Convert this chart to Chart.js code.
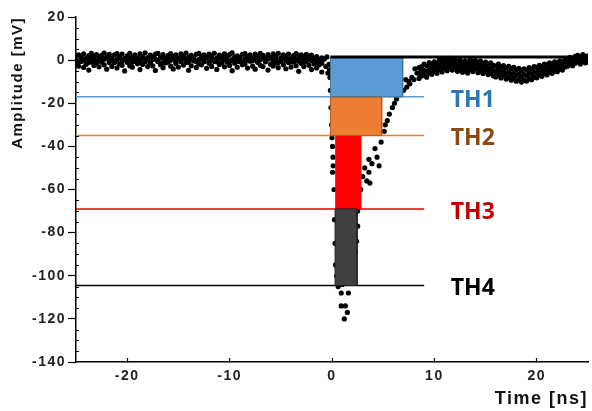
<!DOCTYPE html>
<html>
<head>
<meta charset="utf-8">
<script src="https://cdn.jsdelivr.net/npm/chart.js@4.4.1/dist/chart.umd.min.js"></script>
<style>
  html, body { margin: 0; padding: 0; background: #fff; }
  #wrap { width: 592px; height: 411px; }
</style>
</head>
<body>
<div id="wrap"><canvas id="c" width="592" height="411"></canvas></div>
<script>
// Baseline noise before the pulse (time in ns, amplitude in mV)
const timeNoise = [
  -25,-24.75,-24.5,-24.25,-24,-23.75,-23.5,-23.25,-23,-22.75,-22.5,-22.25,-22,-21.75,-21.5,-21.25,-21,-20.75,-20.5,-20.25,
  -20,-19.75,-19.5,-19.25,-19,-18.75,-18.5,-18.25,-18,-17.75,-17.5,-17.25,-17,-16.75,-16.5,-16.25,-16,-15.75,-15.5,-15.25,
  -15,-14.75,-14.5,-14.25,-14,-13.75,-13.5,-13.25,-13,-12.75,-12.5,-12.25,-12,-11.75,-11.5,-11.25,-11,-10.75,-10.5,-10.25,
  -10,-9.75,-9.5,-9.25,-9,-8.75,-8.5,-8.25,-8,-7.75,-7.5,-7.25,-7,-6.75,-6.5,-6.25,-6,-5.75,-5.5,-5.25,
  -5,-4.75,-4.5,-4.25,-4,-3.75,-3.5,-3.25,-3,-2.75,-2.5,-2.25,-2,-1.75,-1.5,-1.25,-1
];
const ampNoiseHigh = [
  1.8,2.5,1.2,2.9,0.8,2.1,3.1,1.5,2.6,0.9,2.2,3.3,1.4,2.7,1.0,2.4,3.0,1.6,2.8,0.7,
  2.0,3.2,1.3,2.5,1.1,2.9,1.7,3.4,0.9,2.3,1.5,2.8,3.1,1.2,2.6,0.8,2.1,3.0,1.6,2.4,
  1.0,2.9,1.9,3.3,1.3,2.2,0.7,2.7,3.1,1.5,2.5,1.1,2.8,1.8,3.2,0.9,2.3,1.6,2.9,1.2,
  2.6,3.4,1.4,2.0,0.8,2.7,3.0,1.7,2.4,1.1,2.8,1.5,3.1,2.2,0.9,2.6,1.3,2.9,1.9,3.2,
  1.0,2.4,1.6,2.8,0.7,2.1,3.0,1.4,2.5,1.2,2.7,1.8,2.3,0.9,1.6,0.4,1.1
];
const ampNoiseMid = [
  0.3,-0.8,1.1,-0.2,0.6,-1.0,0.9,0.0,-0.5,1.3,-0.9,0.4,1.0,-0.3,0.7,-1.1,0.2,1.2,-0.6,0.5,
  -0.4,0.8,-1.0,1.4,0.1,-0.7,0.9,-0.2,1.1,-0.9,0.3,0.6,-0.5,1.0,-1.2,0.4,1.3,-0.1,0.7,-0.8,
  0.9,-0.3,1.2,0.0,-1.0,0.5,1.1,-0.6,0.2,0.8,-0.4,1.3,-0.9,0.6,0.1,-0.7,1.0,-0.2,0.4,1.2,
  -0.8,0.3,0.9,-0.5,1.1,-1.0,0.6,0.0,1.4,-0.3,0.7,-0.9,0.2,1.0,-0.6,0.5,1.2,-0.4,0.8,-1.1,
  0.3,1.0,-0.2,0.6,-0.8,1.3,0.1,-0.5,0.9,-1.0,0.4,1.1,-0.3,0.7,-0.9,0.2,-1.4
];
const ampNoiseLow = [
  -1.2,-2.8,-0.6,-3.4,-1.9,-4.6,-0.9,-2.5,-1.5,-3.1,-0.4,-2.2,-4.2,-1.1,-2.9,-0.7,-3.6,-1.8,-2.4,-5.0,
  -1.0,-2.6,-3.3,-0.5,-1.7,-4.4,-2.0,-0.8,-3.0,-1.4,-2.7,-4.8,-0.6,-2.1,-3.5,-1.3,-0.9,-2.8,-4.1,-1.6,
  -3.2,-0.7,-2.3,-1.1,-4.7,-2.6,-0.4,-3.4,-1.8,-2.2,-0.8,-3.8,-1.5,-2.9,-0.6,-4.3,-2.0,-1.2,-3.1,-0.9,
  -2.5,-4.9,-1.4,-3.3,-0.7,-2.1,-1.7,-3.7,-0.5,-2.8,-4.2,-1.0,-2.4,-3.0,-0.8,-4.6,-1.9,-2.7,-1.3,-3.5,
  -0.6,-2.2,-4.0,-1.1,-3.2,-0.9,-2.6,-5.2,-1.5,-3.0,-0.7,-2.4,-4.4,-1.8,-3.6,-2.2,-5.5
];

// The pulse itself: fast fall, minimum near -120 mV, slower recovery
const timePulse = [
  -0.75,-0.6,-0.5,-0.4,-0.3,-0.25,-0.2,-0.15,-0.1,-0.05,
  0,0.05,0.1,0.12,0.05,0.2,0.25,0.3,0.35,0.45,
  0.6,0.9,1.0,0.9,1.3,1.2,1.5,1.6,1.8,2.0,
  2.2,2.3,2.4,2.5,2.5,2.6,2.8,3.0,3.2,3.4,
  3.6,3.6,3.7,3.9,4.2,4.4,4.6,4.8,5.1,5.2,
  5.4,5.6,5.9,6.1,6.3,6.6,7.0,7.3,7.5,7.8,
  8.0,8.3,7.2,7.6,8.1
];
const ampPulse = [
  0.5,-3,1.5,-6,-2,-4.5,-8,-14,-22,-30,
  -36,-40,-45,-49,-52,-60,-74,-85,-95,-100,
  -105,-108,-104,-114,-114,-120,-117,-108,-103,-96,
  -92,-89,-84,-77,-70,-66,-60,-54,-50,-56,
  -46,-52,-57,-48,-41,-45,-49,-38,-33,-30,
  -28,-25,-22,-20,-18,-16,-14,-12.5,-10,-8,
  -9,-6,-9,-11,-4
];

// Tail after the pulse, drifting back to the baseline
const timeTail = [
  8.5,8.75,9,9.25,9.5,9.75,10,10.25,10.5,10.75,11,11.25,11.5,11.75,12,12.25,12.5,12.75,13,13.25,
  13.5,13.75,14,14.25,14.5,14.75,15,15.25,15.5,15.75,16,16.25,16.5,16.75,17,17.25,17.5,17.75,18,18.25,
  18.5,18.75,19,19.25,19.5,19.75,20,20.25,20.5,20.75,21,21.25,21.5,21.75,22,22.25,22.5,22.75,23,23.25,
  23.5,23.75,24,24.25,24.5,24.75,25
];
const ampTailHigh = [
  -3.5,-3.0,-1.8,-2.6,-1.2,-2.0,-0.8,-1.5,0.2,-0.9,0.5,-0.4,0.8,-0.2,0.3,-0.6,0.1,-1.0,-0.3,-1.2,
  0.4,-0.8,-0.1,-1.1,-0.5,-1.6,-0.9,-2.0,-1.3,-2.4,-2.8,-1.9,-3.2,-2.5,-3.6,-2.9,-4.1,-3.3,-4.4,-3.8,
  -4.9,-4.0,-4.6,-3.5,-4.2,-3.0,-3.4,-2.4,-2.9,-1.8,-2.2,-1.3,-1.9,-0.8,-1.4,-0.3,-0.9,0.4,0.8,1.3,
  0.6,1.8,2.2,1.4,2.6,1.7,2.0
];
const ampTailMid = [
  -6.0,-5.4,-4.9,-5.2,-3.6,-4.3,-3.0,-3.8,-2.2,-3.1,-1.6,-2.6,-1.3,-2.4,-1.8,-2.9,-2.0,-3.3,-2.5,-3.6,
  -2.0,-3.0,-2.1,-3.4,-2.7,-3.9,-3.1,-4.3,-3.7,-4.9,-5.3,-4.4,-5.8,-5.0,-6.2,-5.4,-6.7,-5.9,-7.1,-6.4,
  -7.6,-6.7,-7.2,-6.0,-6.6,-5.4,-5.8,-4.7,-5.2,-4.0,-4.5,-3.4,-4.0,-2.8,-3.4,-2.1,-2.7,-1.4,-1.0,-0.4,
  -1.0,0.2,0.6,-0.2,1.0,0.2,0.5
];
const ampTailLow = [
  -8.5,-7.4,-6.8,-7.9,-5.9,-6.6,-5.2,-6.1,-4.4,-5.5,-3.8,-4.9,-3.3,-4.6,-3.9,-5.2,-4.1,-5.6,-4.7,-6.0,
  -4.4,-5.3,-4.0,-5.8,-4.9,-6.2,-5.4,-6.7,-6.0,-7.3,-7.8,-6.9,-8.3,-7.4,-8.8,-8.0,-9.3,-8.5,-9.8,-9.0,
  -10.2,-9.4,-9.7,-8.6,-9.1,-7.9,-8.2,-7.0,-7.5,-6.3,-6.8,-5.6,-6.1,-4.9,-5.4,-4.0,-4.6,-3.2,-2.8,-2.1,
  -2.6,-1.4,-1.0,-1.8,-0.6,-1.3,-0.9
];

// Comparator thresholds (mV) and the time the signal spends beyond each one (ns)
const thresholdNames  = ['TH1', 'TH2', 'TH3', 'TH4'];
const thresholdLevels = [-17, -35, -69, -104.5];
const overStart = [-0.15, -0.15, 0.3, 0.3];
const overEnd   = [6.9, 4.85, 2.9, 2.45];
const referenceLevel = 1.5;

// Axis ranges and tick labels
const timeRange = [-25, 25];
const ampRange = [-140, 20];
const timeTickLabels = [-20, -10, 0, 10, 20];
const ampTickLabels = [20, 0, -20, -40, -60, -80, -100, -120, -140];

const fillColors   = ['#5b9bd5', '#ed7d31', '#ff0000', '#404040'];
const edgeColors   = ['#41719c', '#ae5a21', null, '#222222'];
const lineColors   = ['#5b9bd5', '#ed7d31', '#e00000', '#000000'];
const labelColors  = ['#2e75b6', '#8b4a14', '#c00000', '#000000'];

const AXIS_FONT = "'Liberation Sans', Arial, sans-serif";

function pairs(t, a) {
  const n = Math.min(t.length, a.length);
  const out = [];
  for (let i = 0; i < n; i++) out.push({ x: t[i], y: a[i] });
  return out;
}

const samples = [].concat(
  pairs(timeNoise, ampNoiseHigh), pairs(timeNoise, ampNoiseMid), pairs(timeNoise, ampNoiseLow),
  pairs(timePulse, ampPulse),
  pairs(timeTail, ampTailHigh), pairs(timeTail, ampTailMid), pairs(timeTail, ampTailLow)
);

const datasets = [];
datasets.push({
  label: 'signal',
  data: samples,
  showLine: false,
  pointRadius: 2.6,
  pointBackgroundColor: '#000',
  pointBorderWidth: 0,
  order: 10
});

thresholdLevels.forEach((lvl, i) => {
  datasets.push({
    label: thresholdNames[i] + ' level',
    data: [{ x: timeRange[0], y: lvl }, { x: 9, y: lvl }],
    borderColor: lineColors[i],
    borderWidth: 1.5,
    pointRadius: 0,
    fill: false,
    order: 5
  });
});

thresholdLevels.forEach((lvl, i) => {
  const top = i === 0 ? referenceLevel : thresholdLevels[i - 1];
  datasets.push({
    label: thresholdNames[i] + ' window',
    data: [{ x: overStart[i], y: top }, { x: overEnd[i], y: top }],
    borderColor: 'rgba(0,0,0,0)',
    borderWidth: 0,
    backgroundColor: fillColors[i],
    pointRadius: 0,
    fill: { value: lvl },
    order: 3
  });
  if (edgeColors[i]) {
    datasets.push({
      label: thresholdNames[i] + ' edge',
      data: [
        { x: overStart[i], y: top }, { x: overEnd[i], y: top },
        { x: overEnd[i], y: lvl }, { x: overStart[i], y: lvl },
        { x: overStart[i], y: top }
      ],
      borderColor: edgeColors[i],
      borderWidth: 1,
      pointRadius: 0,
      fill: false,
      order: 2
    });
  }
});

datasets.push({
  label: 'reference',
  data: [{ x: overStart[0], y: referenceLevel }, { x: timeRange[1], y: referenceLevel }],
  borderColor: '#000',
  borderWidth: 3,
  pointRadius: 0,
  fill: false,
  order: 1
});

// Axis text is drawn slightly letter-spaced
const spacingPlugin = {
  id: 'spacing',
  beforeDraw(chart) { if ('letterSpacing' in chart.ctx) chart.ctx.letterSpacing = '1.5px'; },
  afterDraw(chart) { if ('letterSpacing' in chart.ctx) chart.ctx.letterSpacing = '0px'; }
};

// Short inward minor ticks on the amplitude axis
const minorTicksPlugin = {
  id: 'minorTicks',
  afterDraw(chart) {
    const y = chart.scales.y, ctx = chart.ctx;
    const left = chart.chartArea.left;
    ctx.save();
    ctx.strokeStyle = '#000';
    ctx.lineWidth = 1;
    for (let v = ampRange[0]; v <= ampRange[1]; v += 5) {
      if (ampTickLabels.includes(v)) continue;
      const py = Math.round(y.getPixelForValue(v)) + 0.5;
      ctx.beginPath();
      ctx.moveTo(left, py);
      ctx.lineTo(left + 3, py);
      ctx.stroke();
    }
    ctx.restore();
  }
};

// TH1..TH4 names beside their levels
const thresholdLabelPlugin = {
  id: 'thresholdLabels',
  afterDatasetsDraw(chart) {
    const { ctx, scales: { x, y } } = chart;
    ctx.save();
    if ('letterSpacing' in ctx) ctx.letterSpacing = '0px';
    ctx.font = "bold 23px 'Open Sans', 'Liberation Sans', sans-serif";
    ctx.textBaseline = 'middle';
    ctx.textAlign = 'left';
    thresholdNames.forEach((name, i) => {
      ctx.fillStyle = labelColors[i];
      ctx.fillText(name, x.getPixelForValue(11.6), y.getPixelForValue(thresholdLevels[i] - 1.5));
    });
    ctx.restore();
  }
};

new Chart(document.getElementById('c'), {
  type: 'line',
  data: { datasets },
  options: {
    responsive: false,
    animation: false,
    events: [],
    layout: { padding: { top: 17, right: 0, left: 0, bottom: 0 } },
    plugins: { legend: { display: false }, tooltip: { enabled: false } },
    scales: {
      x: {
        type: 'linear',
        min: timeRange[0],
        max: timeRange[1],
        afterFit(s) { s.height = 49; },
        border: { display: true, color: '#000', width: 1.5 },
        grid: { drawOnChartArea: false, tickLength: -4, tickColor: '#000', tickWidth: 1.2 },
        ticks: {
          stepSize: 2.5,
          padding: 10,
          color: '#222',
          font: { family: AXIS_FONT, size: 14, weight: 'bold' },
          maxRotation: 0,
          autoSkip: false,
          callback: v => timeTickLabels.includes(v) ? String(v) : null
        },
        title: {
          display: true,
          text: 'Time [ns]',
          align: 'end',
          color: '#111',
          padding: { top: 0, bottom: 1 },
          font: { family: AXIS_FONT, size: 18, weight: 'bold' }
        }
      },
      y: {
        min: ampRange[0],
        max: ampRange[1],
        afterFit(s) { s.width = 76; },
        border: { display: true, color: '#000', width: 1.5 },
        grid: { drawOnChartArea: false, tickLength: 8, tickColor: '#000', tickWidth: 1.2 },
        ticks: {
          stepSize: 20,
          padding: 2,
          color: '#222',
          font: { family: AXIS_FONT, size: 14, weight: 'bold' },
          callback: v => ampTickLabels.includes(v) ? String(v) : null
        },
        title: {
          display: true,
          text: 'Amplitude [mV]',
          align: 'end',
          color: '#111',
          padding: { top: 9, bottom: 0 },
          font: { family: AXIS_FONT, size: 15, weight: 'bold' }
        }
      }
    }
  },
  plugins: [spacingPlugin, minorTicksPlugin, thresholdLabelPlugin]
});
</script>
</body>
</html>
